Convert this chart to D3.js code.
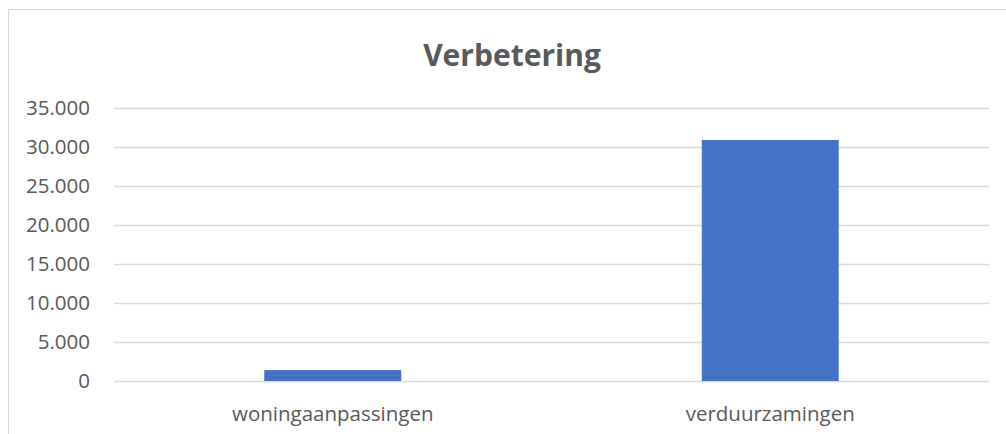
<!DOCTYPE html>
<html>
<head>
<meta charset="utf-8">
<script src="https://cdn.jsdelivr.net/npm/d3@7"></script>
<style>
  body { margin: 0; background: #fff; }
  text { font-family: "Open Sans", sans-serif; fill: #595959; }
</style>
</head>
<body>
<script>
const width = 1006, height = 434

// data
const categories = ["woningaanpassingen", "verduurzamingen"]
const values = [1400, 30900]
const yTicks = [0, 5000, 10000, 15000, 20000, 25000, 30000, 35000]
const title = "Verbetering"

const margin = {top: 108, right: 17, bottom: 53, left: 114}

let svg = d3.select("body")
    .append("svg")
    .attr("width", width)
    .attr("height", height)

// chart frame (cropped on right/bottom)
svg.append("path")
    .attr("d", "M8.5," + height + "V9.5H" + width)
    .attr("fill", "none")
    .attr("stroke", "#d9d9d9")
    .attr("stroke-width", 1)

const x = d3.scaleBand()
    .domain(categories)
    .range([margin.left, width - margin.right])
    .paddingInner(0.687)
    .paddingOuter(0.3435)

const y = d3.scaleLinear()
    .domain([0, 35000])
    .range([height - margin.bottom, margin.top])

// grid
svg.append("g")
    .selectAll("line")
    .data(yTicks)
    .join("line")
    .attr("x1", margin.left)
    .attr("x2", width - margin.right)
    .attr("y1", d => Math.round(y(d)) + 0.5)
    .attr("y2", d => Math.round(y(d)) + 0.5)
    .attr("stroke", "#d9d9d9")
    .attr("stroke-width", 1.5)

// y labels
const fmt = d => d === 0 ? "0" : d3.format(",")(d).replace(/,/g, ".")
svg.append("g")
    .selectAll("text")
    .data(yTicks)
    .join("text")
    .attr("x", 90)
    .attr("y", d => y(d))
    .attr("dy", "0.35em")
    .attr("text-anchor", "end")
    .style("font-size", "20.5px")
    .text(fmt)

// bars
svg.append("g")
    .selectAll("rect")
    .data(values)
    .join("rect")
    .attr("x", (d, i) => x(categories[i]))
    .attr("width", x.bandwidth())
    .attr("y", d => y(d))
    .attr("height", d => y(0) - y(d))
    .attr("fill", "#4472c4")

// x labels
svg.append("g")
    .selectAll("text")
    .data(categories)
    .join("text")
    .attr("x", d => x(d) + x.bandwidth() / 2)
    .attr("y", 421)
    .attr("text-anchor", "middle")
    .style("font-size", "20.5px")
    .text(d => d)

svg.append("text")
    .attr("x", 512)
    .attr("y", 66)
    .attr("text-anchor", "middle")
    .style("font-size", "30px")
    .style("font-weight", "bold")
    .text(title)
</script>
</body>
</html>
